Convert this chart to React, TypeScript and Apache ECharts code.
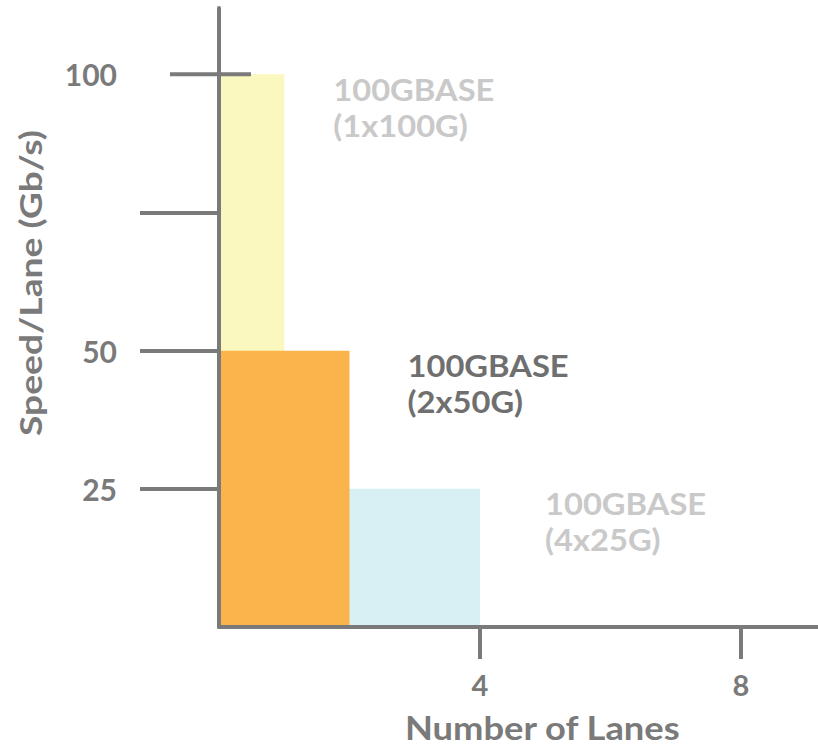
import React, { useEffect, useRef } from "react";
import * as echarts from "echarts";

// Ethernet 100G lane configurations
const configNames = ["100GBASE\n(1x100G)", "100GBASE\n(2x50G)", "100GBASE\n(4x25G)"];
const laneCounts = [1, 2, 4];
const laneSpeeds = [100, 50, 25];

const yTickValues = [25, 50, 75];
const yLabelValues = [25, 50, 100];
const xTickValues = [4, 8];

const barColors = ["#FAF8BF", "#FBB44B", "#D8EFF4"];
const labelColors = ["#C9C9C9", "#6F6F6F", "#C9C9C9"];
const barLayer = [1, 2, 0];
const labelGap = [49, 58, 65];

const AXIS = "#7A7A7A";
const FONT = "Lato, 'Noto Sans', sans-serif";
// widen the text a little to get a geometric, wide look
const WIDE = 1.09;

export default function App() {
  const ref = useRef<HTMLDivElement>(null);

  useEffect(() => {
    document.body.style.margin = "0";
    if (!ref.current) return;
    const chart = echarts.init(ref.current, null, { renderer: "svg" });

    const data = laneCounts.map((n, i) => [n, laneSpeeds[i], i]);

    chart.setOption({
      animation: false,
      grid: { left: 219, right: 0, top: 8, bottom: 124 },
      xAxis: {
        type: "value",
        min: 0,
        max: 9.18,
        axisLine: { show: true, onZero: false, lineStyle: { color: AXIS, width: 4 } },
        axisTick: { show: true, customValues: xTickValues, length: 32, lineStyle: { color: AXIS, width: 4 } },
        axisLabel: {
          customValues: xTickValues,
          margin: 43,
          color: AXIS,
          fontSize: 29,
          fontWeight: "bold",
          fontFamily: FONT,
        },
        splitLine: { show: false },
      },
      yAxis: {
        type: "value",
        min: 0,
        max: 112,
        axisLine: { show: true, lineStyle: { color: AXIS, width: 4 } },
        axisTick: { show: true, customValues: yTickValues, length: 79, lineStyle: { color: AXIS, width: 4 } },
        axisLabel: {
          customValues: yLabelValues,
          margin: 102,
          color: AXIS,
          fontSize: 30,
          fontWeight: "bold",
          fontFamily: FONT,
        },
        splitLine: { show: false },
      },
      graphic: [
        {
          type: "text",
          x: 405,
          y: 711,
          scaleX: 1.1,
          style: {
            text: "Number of Lanes",
            fill: AXIS,
            fontSize: 33,
            fontWeight: "bold",
            fontFamily: FONT,
          },
        },
        {
          type: "text",
          x: 15,
          y: 436,
          rotation: Math.PI / 2,
          scaleX: 1.24,
          style: {
            text: "Speed/Lane (Gb/s)",
            fill: AXIS,
            fontSize: 30,
            fontWeight: "bold",
            fontFamily: FONT,
          },
        },
      ],
      series: [
        {
          type: "custom",
          clip: false,
          data,
          renderItem: (params: any, api: any) => {
            const lanes = api.value(0);
            const speed = api.value(1);
            const i = api.value(2);
            const p0 = api.coord([0, 0]);
            const p1 = api.coord([lanes, speed]);
            return {
              type: "group",
              children: [
                {
                  type: "rect",
                  z2: barLayer[i],
                  shape: { x: p0[0] + 2, y: p1[1], width: p1[0] - p0[0] - 2, height: p0[1] - p1[1] - 2 },
                  style: { fill: barColors[i] },
                },
                {
                  type: "text",
                  z2: 5,
                  x: p1[0] + labelGap[i],
                  y: p1[1] - 3,
                  scaleX: WIDE,
                  style: {
                    text: configNames[i],
                    fill: labelColors[i],
                    fontSize: 30,
                    lineHeight: 36,
                    fontWeight: "bold",
                    fontFamily: FONT,
                    align: "left",
                    verticalAlign: "top",
                  },
                },
              ],
            };
          },
        },
        {
          // longer tick marking the top speed, crossing the axis
          type: "custom",
          clip: false,
          z: 3,
          data: [[0, laneSpeeds[0]]],
          renderItem: (params: any, api: any) => {
            const p = api.coord([api.value(0), api.value(1)]);
            return {
              type: "line",
              shape: { x1: p[0] - 49, y1: p[1], x2: p[0] + 32, y2: p[1] },
              style: { stroke: AXIS, lineWidth: 4 },
            };
          },
        },
      ],
    });

    return () => chart.dispose();
  }, []);

  return <div ref={ref} style={{ width: 818, height: 751 }} />;
}
